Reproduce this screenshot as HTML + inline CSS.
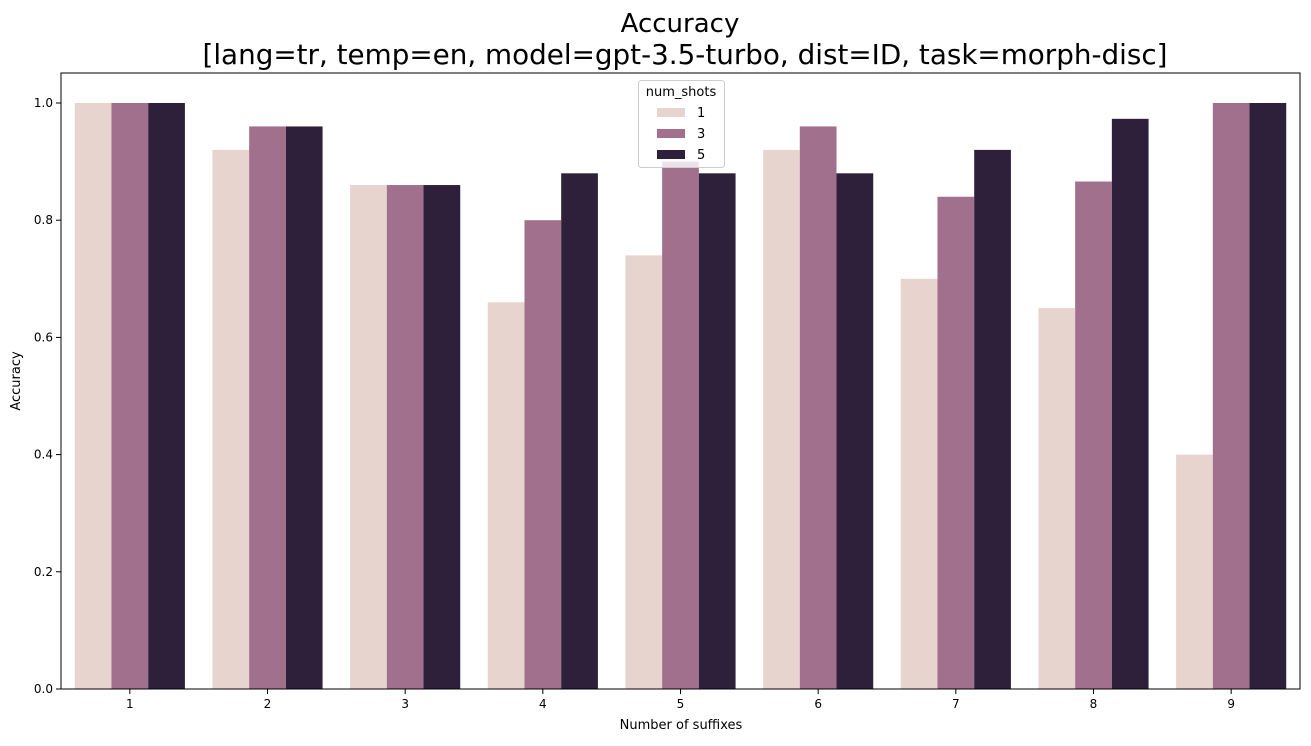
<!DOCTYPE html>
<html><head><meta charset="utf-8"><style>
body{margin:0;background:#fff;font-family:"DejaVu Sans","Liberation Sans",sans-serif}
svg text{font-family:"DejaVu Sans","Liberation Sans",sans-serif}
</style></head><body>
<svg id="chart" width="1311" height="742" xmlns="http://www.w3.org/2000/svg">
<text x="680" y="32" font-size="26" text-anchor="middle">Accuracy</text>
<text x="685" y="64" font-size="27.8" text-anchor="middle">[lang=tr, temp=en, model=gpt-3.5-turbo, dist=ID, task=morph-disc]</text>
<g id="bars"></g>
<g id="axes"></g>
<text x="681" y="729" font-size="13" text-anchor="middle">Number of suffixes</text>
<text x="20" y="381" font-size="13" text-anchor="middle" transform="rotate(-90 20 381)">Accuracy</text>
<g>
<rect x="638.5" y="80.5" width="86" height="87" rx="3" fill="#fff" fill-opacity="0.8" stroke="#ccc"/>
<text x="681" y="96" font-size="13" text-anchor="middle">num_shots</text>
<rect x="657" y="108" width="28" height="9" fill="#e8d4cf"/>
<text x="697" y="117" font-size="13">1</text>
<rect x="657" y="129" width="28" height="9" fill="#a1708d"/>
<text x="697" y="138" font-size="13">3</text>
<rect x="657" y="150" width="28" height="9" fill="#2e1f3b"/>
<text x="697" y="159" font-size="13">5</text>
</g>
</svg>
<script>
const categories=["1","2","3","4","5","6","7","8","9"];
const shots1=[1.0,0.92,0.86,0.66,0.74,0.92,0.70,0.65,0.40];
const shots3=[1.0,0.96,0.86,0.80,0.90,0.96,0.84,0.866,1.0];
const shots5=[1.0,0.96,0.86,0.88,0.88,0.88,0.92,0.973,1.0];
const yTicks=[0,0.2,0.4,0.6,0.8,1.0];
const NS="http://www.w3.org/2000/svg";
const L=61,R=1300,T=73,B=689;
const y=v=>B-v*586;
const step=(R-L)/categories.length;
const cx=i=>L+step*(i+0.5);
const bw=step*0.8/3;
const series=[[shots1,"#e8d4cf","1"],[shots3,"#a1708d","3"],[shots5,"#2e1f3b","5"]];
const bars=document.getElementById("bars");
series.forEach((s,si)=>{s[0].forEach((v,i)=>{
 const r=document.createElementNS(NS,"rect");
 r.setAttribute("x",cx(i)-1.5*bw+si*bw);r.setAttribute("width",bw);
 r.setAttribute("y",y(v));r.setAttribute("height",B-y(v));r.setAttribute("fill",s[1]);
 
 
 bars.appendChild(r);});});
const ax=document.getElementById("axes");
let h='<rect x="'+L+'" y="'+T+'" width="'+(R-L)+'" height="'+(B-T)+'" fill="none" stroke="#000" stroke-width="1"/>';
yTicks.forEach(t=>{h+='<line x1="'+(L-5)+'" x2="'+L+'" y1="'+y(t)+'" y2="'+y(t)+'" stroke="#000"/><text x="'+(L-8)+'" y="'+(y(t)+4)+'" font-size="12" text-anchor="end">'+t.toFixed(1)+'</text>';});
categories.forEach((c,i)=>{h+='<line x1="'+cx(i)+'" x2="'+cx(i)+'" y1="'+B+'" y2="'+(B+5)+'" stroke="#000"/><text x="'+cx(i)+'" y="'+(B+19)+'" font-size="12" text-anchor="middle">'+c+'</text>';});
ax.innerHTML=h;


</script>
</body></html>
